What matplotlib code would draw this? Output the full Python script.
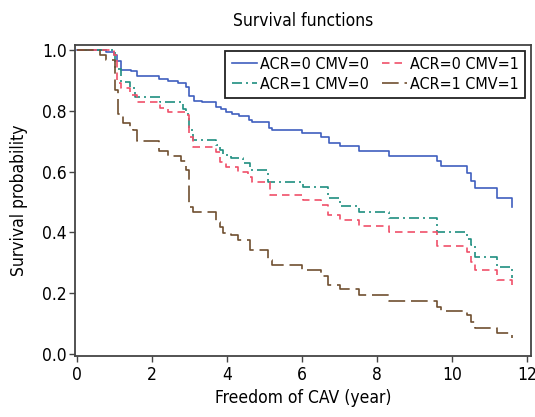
import matplotlib
matplotlib.use("Agg")
import matplotlib.pyplot as plt
from matplotlib import font_manager

# the reference uses a condensed face; take one if the system has it
fonts = font_manager.fontManager.ttflist
narrow = [f for f in fonts if f.name == 'Liberation Sans Narrow']
cond = [f for f in fonts if f.name == 'DejaVu Sans' and 'Condensed' in f.fname]
if narrow:
    plt.rcParams['font.family'] = ['Liberation Sans Narrow', 'DejaVu Sans']
    fs, lfs = 13.5, 13
elif cond:
    plt.rcParams['font.family'] = ['DejaVu Sans']
    plt.rcParams['font.stretch'] = 'condensed'
    fs, lfs = 12.5, 11.5
else:
    plt.rcParams['font.family'] = ['Liberation Sans', 'DejaVu Sans']
    fs, lfs = 12, 11

# Kaplan-Meier step points (time in years, survival probability)
t_a0c0 = [0, 0.78, 0.99, 1.06, 1.18, 1.43, 1.60, 2.17, 2.43, 2.69, 2.91, 2.98, 3.11, 3.34,
          3.71, 3.83, 3.98, 4.13, 4.31, 4.57, 4.65, 5.11, 5.19, 6.00, 6.51, 6.70, 7.00,
          7.50, 8.30, 9.60, 9.71, 10.40, 10.49, 10.60, 11.20, 11.60]
s_a0c0 = [1.0, 0.993, 0.985, 0.965, 0.935, 0.93, 0.915, 0.905, 0.899, 0.893, 0.88, 0.85,
          0.834, 0.828, 0.812, 0.805, 0.795, 0.788, 0.783, 0.769, 0.762, 0.745, 0.738,
          0.728, 0.715, 0.695, 0.683, 0.667, 0.651, 0.635, 0.618, 0.596, 0.570, 0.546,
          0.515, 0.485]

t_a0c1 = [0, 0.99, 1.06, 1.18, 1.40, 1.60, 2.20, 2.43, 2.90, 2.98, 3.09, 3.71, 3.80, 3.98,
          4.29, 4.56, 4.65, 5.13, 6.02, 6.51, 6.69, 7.00, 7.50, 8.30, 9.60, 10.40, 10.49,
          10.60, 11.20, 11.60]
s_a0c1 = [1.0, 0.985, 0.89, 0.874, 0.852, 0.83, 0.808, 0.797, 0.786, 0.715, 0.682, 0.665,
          0.633, 0.614, 0.60, 0.583, 0.567, 0.523, 0.508, 0.49, 0.459, 0.441, 0.422, 0.40,
          0.356, 0.337, 0.303, 0.276, 0.243, 0.21]

t_a1c0 = [0, 1.00, 1.18, 1.40, 1.54, 2.20, 2.82, 2.91, 2.98, 3.09, 3.71, 3.80, 3.89, 4.11,
          4.42, 4.60, 5.09, 6.02, 6.69, 7.00, 7.50, 8.30, 9.60, 10.40, 10.49, 10.60, 11.20,
          11.60]
s_a1c0 = [1.0, 0.936, 0.896, 0.874, 0.847, 0.828, 0.805, 0.79, 0.737, 0.704, 0.688, 0.671,
          0.655, 0.644, 0.627, 0.607, 0.566, 0.550, 0.512, 0.487, 0.466, 0.446, 0.40, 0.38,
          0.359, 0.32, 0.286, 0.25]

t_a1c1 = [0, 0.60, 0.78, 1.00, 1.08, 1.23, 1.40, 1.48, 1.60, 2.17, 2.43, 2.78, 2.91, 2.98,
          3.09, 3.71, 3.80, 3.89, 4.11, 4.29, 4.60, 5.09, 5.19, 6.00, 6.51, 6.69, 7.00,
          7.50, 8.30, 9.60, 9.71, 10.40, 10.49, 10.60, 11.20, 11.60]
s_a1c1 = [1.0, 0.985, 0.966, 0.868, 0.79, 0.759, 0.748, 0.737, 0.702, 0.669, 0.651, 0.636,
          0.605, 0.485, 0.468, 0.435, 0.419, 0.397, 0.391, 0.375, 0.344, 0.309, 0.293,
          0.276, 0.258, 0.227, 0.213, 0.194, 0.175, 0.156, 0.141, 0.128, 0.106, 0.087,
          0.068, 0.052]

x_ticks = [0, 2, 4, 6, 8, 10, 12]
y_ticks = [0.0, 0.2, 0.4, 0.6, 0.8, 1.0]

fig = plt.figure(figsize=(5.35, 4.17), dpi=100)
ax = fig.add_axes([0.140, 0.146, 0.852, 0.746])

ax.step(t_a0c0, s_a0c0, where='post', color='#3f5fbf', lw=1.2, label='ACR=0 CMV=0')
ax.step(t_a1c0, s_a1c0, where='post', color='#1f8f80', lw=1.2,
        linestyle=(0, (6, 2.4, 1.2, 2.4)), label='ACR=1 CMV=0')
ax.step(t_a0c1, s_a0c1, where='post', color='#f0506a', lw=1.2,
        linestyle=(0, (4.5, 3)), label='ACR=0 CMV=1')
ax.step(t_a1c1, s_a1c1, where='post', color='#704f30', lw=1.2,
        linestyle=(0, (10, 3.5)), label='ACR=1 CMV=1')

ax.set_xlim(-0.06, 12.09)
ax.set_ylim(-0.0066, 1.0164)
ax.set_xticks(x_ticks)
ax.set_yticks(y_ticks)
ax.set_yticklabels([f'{v:.1f}' for v in y_ticks])

for sp in ax.spines.values():
    sp.set_color('#444444')
    sp.set_linewidth(1.3)
ax.tick_params(direction='out', length=4, width=1, color='#444444', labelsize=fs)
ax.tick_params(axis='y', pad=2)
ax.tick_params(axis='x', pad=3)

ax.set_title('Survival functions', fontsize=fs, pad=14)
ax.set_xlabel('Freedom of CAV (year)', fontsize=fs, labelpad=4)
ax.set_ylabel('Survival probability', fontsize=fs, labelpad=10)

leg = ax.legend(ncol=2, loc='upper right', bbox_to_anchor=(0.987, 0.982),
                borderaxespad=0, fontsize=lfs, handlelength=1.6, handletextpad=0.15,
                columnspacing=0.8, labelspacing=0.3, borderpad=0.4,
                frameon=True, fancybox=False, framealpha=1)
leg.get_frame().set_edgecolor('#222222')
leg.get_frame().set_linewidth(1.3)

fig.savefig('out.png', dpi=100)
